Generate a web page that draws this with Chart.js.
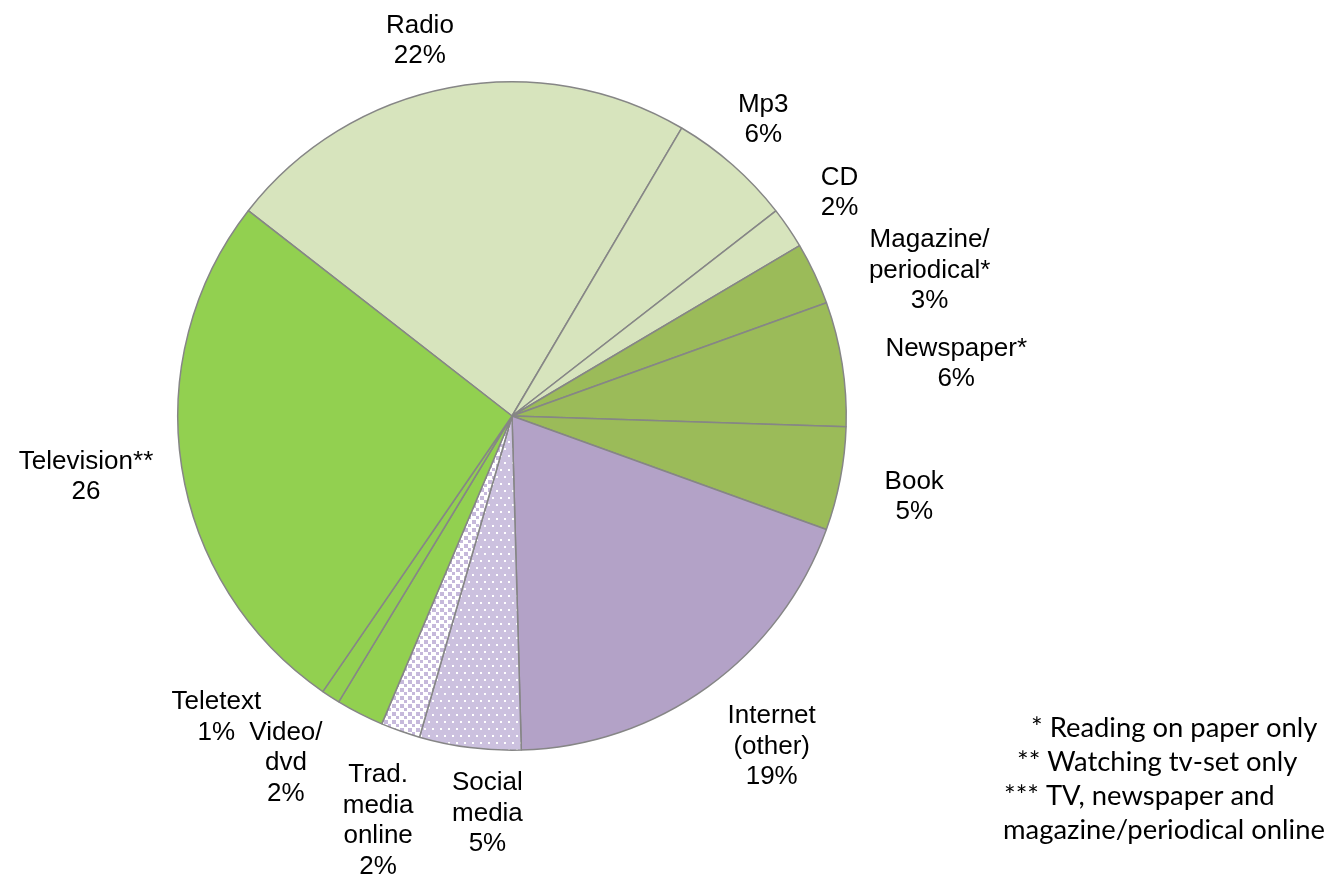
<!DOCTYPE html>
<html>
<head>
<meta charset="utf-8">
<script src="https://cdn.jsdelivr.net/npm/chart.js@4"></script>
<style>
html, body { margin: 0; background: #fff; }
#wrap { position: relative; width: 1331px; height: 881px; }
</style>
</head>
<body>
<div id="wrap"><canvas id="chart"></canvas></div>
<script>
// media time shares, clockwise from Radio
const categories = ["Radio", "Mp3", "CD", "Magazine/periodical*", "Newspaper*", "Book",
	"Internet (other)", "Social media", "Trad. media online", "Video/dvd", "Teletext", "Television**"];
const shares = [22.9, 6.0, 2.0, 3.0, 6.0, 5.0, 19.0, 4.9, 1.9, 2.3, 0.9, 25.9];
const labelLines = [
	["Radio", "22%"], ["Mp3", "6%"], ["CD", "2%"], ["Magazine/", "periodical*", "3%"],
	["Newspaper*", "6%"], ["Book", "5%"], ["Internet", "(other)", "19%"], ["Social", "media", "5%"],
	["Trad.", "media", "online", "2%"], ["Video/", "dvd", "2%"], ["Teletext", "1%"], ["Television**", "26"]
];
const notes = ["* Reading on paper only", "** Watching tv-set only", "*** TV, newspaper and", "magazine/periodical online"];

function makePattern(w, h, bg, fg, dots) {
	let c = document.createElement("canvas");
	c.width = w; c.height = h;
	let g = c.getContext("2d");
	g.fillStyle = bg;
	g.fillRect(0, 0, w, h);
	g.fillStyle = fg;
	dots.forEach(d => g.fillRect(d[0], d[1], d[2], d[2]));
	return g.createPattern(c, "repeat");
}

const lightGreen = "#D7E4BD", olive = "#9BBB59", tvGreen = "#92D050", lavender = "#B3A2C7";
const socialFill = makePattern(8, 14, "#CCC1DF", "#ffffff", [[0, 0, 2], [4, 7, 2]]);
const tradFill = makePattern(8, 8, "#ffffff", "#C6B9DB", [[0, 0, 4], [4, 4, 3]]);

// label placement: extra distance past the rim, and a small angle nudge (deg)
const labelOffset = [52, 54, 62, 108, 113, 76, 86, 64, 92, 80, 88, 96];
const labelNudge = [-3, -1, 0, 6, 2.3, 0.5, -2.3, -3.7, -1.2, 6, 11.6, 0.7];

const sliceLabels = {
	id: "sliceLabels",
	afterDatasetsDraw(chart) {
		let ctx = chart.ctx;
		let arcs = chart.getDatasetMeta(0).data;
		ctx.save();
		ctx.font = "26px 'Liberation Sans', Arial, sans-serif";
		ctx.fillStyle = "#000";
		ctx.textAlign = "center";
		ctx.textBaseline = "middle";
		arcs.forEach((arc, i) => {
			let p = arc.getProps(["x", "y", "startAngle", "endAngle", "outerRadius"], true);
			let a = (p.startAngle + p.endAngle) / 2 + labelNudge[i] * Math.PI / 180;
			let r = p.outerRadius + labelOffset[i];
			let cx = p.x + Math.cos(a) * r;
			let cy = p.y + Math.sin(a) * r;
			let lines = labelLines[i];
			let lh = 30.5;
			lines.forEach((t, k) => {
				ctx.fillText(t, cx, cy + (k - (lines.length - 1) / 2) * lh);
			});
		});
		ctx.restore();
	},
	afterDraw(chart) {
		let ctx = chart.ctx;
		ctx.save();
		ctx.font = "27.4px Lato, 'Open Sans', sans-serif";
		ctx.fillStyle = "#000";
		ctx.textAlign = "left";
		ctx.textBaseline = "alphabetic";
		let xs = [1031, 1017, 1004, 1003];
		notes.forEach((t, k) => ctx.fillText(t, xs[k], 737 + k * 34));
		ctx.restore();
	}
};

let ctx = document.getElementById("chart").getContext("2d");
window.chart = new Chart(ctx, {
	type: "pie",
	data: {
		labels: categories,
		datasets: [
			{
				data: shares,
				backgroundColor: [lightGreen, lightGreen, lightGreen, olive, olive, olive,
					lavender, socialFill, tradFill, tvGreen, tvGreen, tvGreen],
				borderColor: "#868686",
				borderWidth: 1.5
			}
		]
	},
	options: {
		responsive: true,
		maintainAspectRatio: false,
		animation: false,
		rotation: -52.1,
		layout: { padding: { left: 177, right: 484, top: 81, bottom: 130 } },
		plugins: {
			legend: { display: false },
			tooltip: { enabled: false }
		}
	},
	plugins: [sliceLabels]
});
</script>
</body>
</html>
